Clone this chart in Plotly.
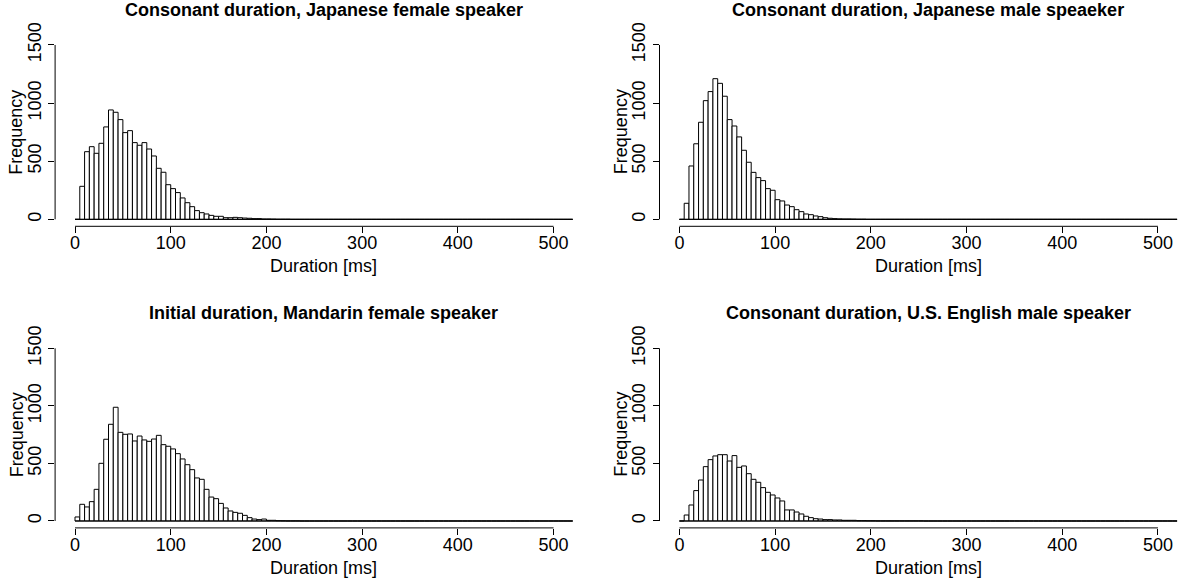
import numpy as np
import plotly.graph_objects as go

# ---------------- data (5 ms bins, 0..520 ms) ----------------
bin_width = 5
bin_edges = list(range(0, 525, 5))  # 0..520

titles = [
    "Consonant duration, Japanese female speaker",
    "Consonant duration, Japanese male speaeker",
    "Initial duration, Mandarin female speaker",
    "Consonant duration, U.S. English male speaker",
]

jp_female = [0, 284, 582, 625, 568, 654, 795, 941, 921, 858, 746, 763, 660, 637, 660, 605,
             545, 439, 405, 298, 264, 230, 184, 143, 109, 75, 57, 46, 34, 26, 26, 14,
             14, 17, 14, 11, 9, 6, 6, 3, 3, 2, 1, 1, 1]
jp_male = [0, 138, 459, 650, 835, 1021, 1099, 1210, 1170, 1059, 858, 803, 709, 594, 491, 404,
           359, 333, 264, 250, 169, 158, 123, 109, 83, 66, 46, 40, 29, 23, 14, 9,
           6, 4, 3, 3, 2, 1, 1]
mandarin_female = [35, 145, 122, 168, 275, 501, 710, 840, 988, 770, 753, 756, 695, 738, 704, 692,
                   712, 744, 663, 649, 626, 585, 539, 489, 446, 374, 362, 275, 208, 194, 153, 113,
                   87, 75, 67, 49, 29, 17, 12, 17, 6, 6, 3, 2, 1, 1, 1]
us_english_male = [0, 52, 139, 264, 356, 472, 533, 565, 576, 576, 521, 568, 466, 478, 411, 362,
                   336, 290, 249, 226, 200, 174, 96, 96, 78, 61, 41, 29, 20, 17, 12, 12,
                   9, 9, 6, 6, 6, 3, 3, 2, 2, 1, 1, 1, 1, 1, 1, 1, 1, 1, 1]

x_ticks = [0, 100, 200, 300, 400, 500]
y_ticks = [0, 500, 1000, 1500]
x_title = "Duration [ms]"
y_title = "Frequency"

series = [jp_female, jp_male, mandarin_female, us_english_male]

# ---------------- layout geometry ----------------
W, H = 1198, 585
nbins = len(bin_edges) - 1
edges = np.array(bin_edges, dtype=float)
centers = (edges[:-1] + edges[1:]) / 2
xr = [edges[0] - 0.04 * (edges[-1] - edges[0]), edges[-1] + 0.04 * (edges[-1] - edges[0])]
yr = [y_ticks[0] - 0.04 * y_ticks[-1], y_ticks[-1] * 1.04]

panels = [  # left, right, top, bottom in pixels
    (55.1, 592.6, 38.0, 226.3),
    (659.5, 1197.0, 38.0, 226.3),
    (55.1, 592.6, 341.4, 527.9),
    (659.5, 1197.0, 341.4, 527.9),
]

FONT = "Liberation Sans, Arial, Helvetica, sans-serif"
FS = 18
fig = go.Figure()
layout = dict(
    template="none",
    width=W, height=H, margin=dict(l=0, r=0, t=0, b=0, pad=0, autoexpand=False),
    paper_bgcolor="white", plot_bgcolor="white", showlegend=False,
    font=dict(family=FONT, size=FS, color="black"),
)
shapes, annotations = [], []

for i, (vals, (l, r, t, b)) in enumerate(zip(series, panels)):
    k = "" if i == 0 else str(i + 1)
    counts = np.zeros(nbins)
    counts[:len(vals)] = vals
    xa, ya = "x" + k, "y" + k
    fig.add_trace(go.Bar(
        x=centers, y=counts, width=bin_width, xaxis=xa, yaxis=ya,
        marker=dict(color="white", line=dict(color="black", width=1)),
        hoverinfo="skip"))
    fig.add_trace(go.Scatter(
        x=[edges[0], edges[-1]], y=[0, 0], mode="lines", xaxis=xa, yaxis=ya,
        line=dict(color="black", width=1), hoverinfo="skip"))
    layout["xaxis" + k] = dict(
        domain=[l / W, r / W], range=xr, anchor=ya, tickvals=x_ticks,
        ticktext=[str(v) for v in x_ticks], ticks="outside", ticklen=6, tickwidth=1,
        tickcolor="black", showline=False, showgrid=False, zeroline=False,
        ticklabelstandoff=-6,
        automargin=False, tickfont=dict(size=FS), fixedrange=True)
    layout["yaxis" + k] = dict(
        domain=[1 - b / H, 1 - t / H], range=yr, anchor=xa, tickvals=y_ticks,
        ticktext=[str(v) for v in y_ticks], ticks="outside", ticklen=6, tickwidth=1,
        tickcolor="black", showline=False, showgrid=False, zeroline=False,
        automargin=False, tickangle=-90, tickfont=dict(size=FS), fixedrange=True)
    shapes.append(dict(type="line", xref=xa, yref=ya + " domain", x0=x_ticks[0], x1=x_ticks[-1],
                       y0=0, y1=0, line=dict(color="black", width=1)))
    shapes.append(dict(type="line", xref=xa + " domain", yref=ya, x0=0, x1=0,
                       y0=y_ticks[0], y1=y_ticks[-1], line=dict(color="black", width=1)))
    cx = (l + r) / 2
    annotations.append(dict(text="<b>" + titles[i] + "</b>", x=cx / W, y=1 - (t - 28) / H,
                            xref="paper", yref="paper", xanchor="center", yanchor="middle",
                            showarrow=False, font=dict(size=FS)))
    annotations.append(dict(text=x_title, x=cx / W, y=1 - (b + 40) / H,
                            xref="paper", yref="paper", xanchor="center", yanchor="middle",
                            showarrow=False, font=dict(size=FS)))
    annotations.append(dict(text=y_title, x=(l - 38.5) / W, y=1 - ((t + b) / 2) / H,
                            xref="paper", yref="paper", xanchor="center", yanchor="middle",
                            textangle=-90, showarrow=False, font=dict(size=FS)))

layout["shapes"] = shapes
layout["annotations"] = annotations
fig.update_layout(**layout)
fig.write_html("out.html", config={"displayModeBar": False},
               post_script="document.body.style.margin='0';")
